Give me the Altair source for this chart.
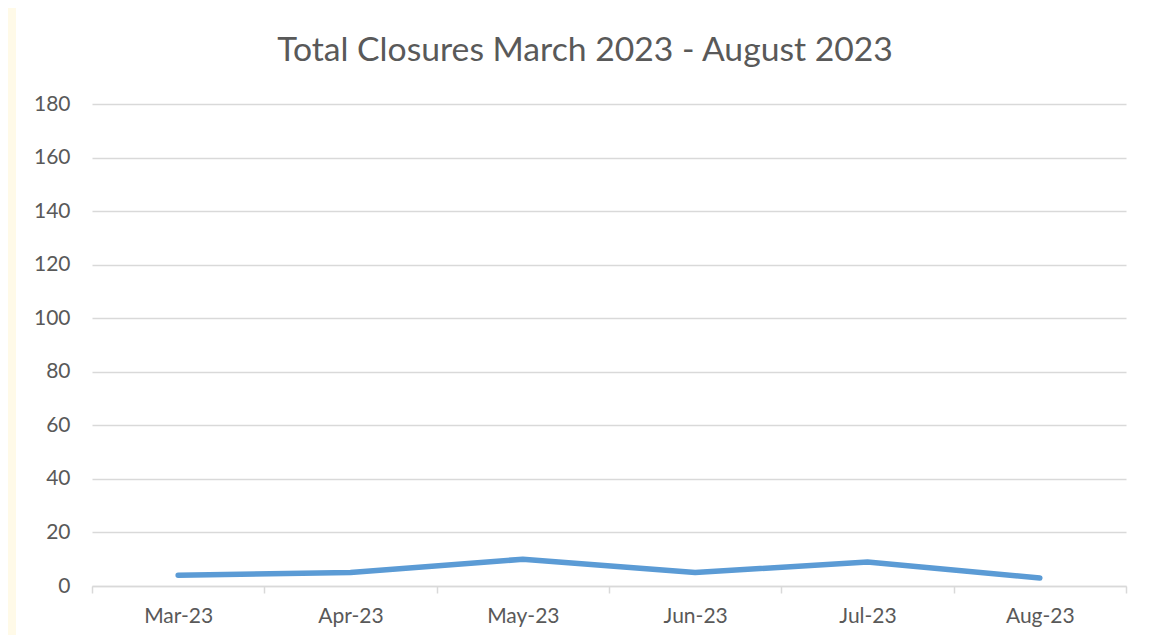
import altair as alt
import pandas as pd

months = ["Mar-23", "Apr-23", "May-23", "Jun-23", "Jul-23", "Aug-23"]
closures = [4, 5, 10, 5, 9, 3]
title_text = "Total Closures March 2023 - August 2023"

df = pd.DataFrame({"month": months, "closures": closures})
bg = pd.DataFrame({"t": [title_text]})

W, H = 1034, 482
GREY = "#595959"
FONT = "Lato"

panel = alt.Chart(bg).mark_rect(color="white").encode(
    x=alt.value(-76), x2=alt.value(1064), y=alt.value(-100), y2=alt.value(H + 60)
)

title = alt.Chart(bg).mark_text(
    font=FONT, fontSize=33.7, color=GREY, align="center", baseline="alphabetic"
).encode(x=alt.value(493), y=alt.value(-43), text="t:N")

line = alt.Chart(df).mark_line(
    color="#5B9BD5", strokeWidth=5.5, strokeCap="round", strokeJoin="round"
).encode(
    x=alt.X("month:N", sort=months, title=None,
            scale=alt.Scale(paddingInner=0, paddingOuter=0),
            axis=alt.Axis(labelAngle=0, tickBand="extent", domainColor="#D9D9D9",
                          domainWidth=1.5, tickColor="#D9D9D9", tickSize=7, tickWidth=1.5,
                          labelFont=FONT, labelFontSize=21, labelColor=GREY,
                          labelPadding=12, grid=False, zindex=1)),
    y=alt.Y("closures:Q", title=None,
            scale=alt.Scale(domain=[0, 180], nice=False),
            axis=alt.Axis(values=list(range(0, 181, 20)), domain=False, ticks=False,
                          gridColor="#D9D9D9", gridWidth=1.5,
                          labelFont=FONT, labelFontSize=21, labelColor=GREY,
                          labelPadding=22, zindex=1)),
)

chart = alt.layer(panel, title, line).properties(
    width=W, height=H,
    background="#FFFAE8",
    padding={"left": 84, "top": 96, "right": 29, "bottom": 49},
    autosize=alt.AutoSizeParams(type="none"),
).configure_view(stroke=None)

chart.save("out.html", embed_options={"renderer": "svg", "actions": False})
